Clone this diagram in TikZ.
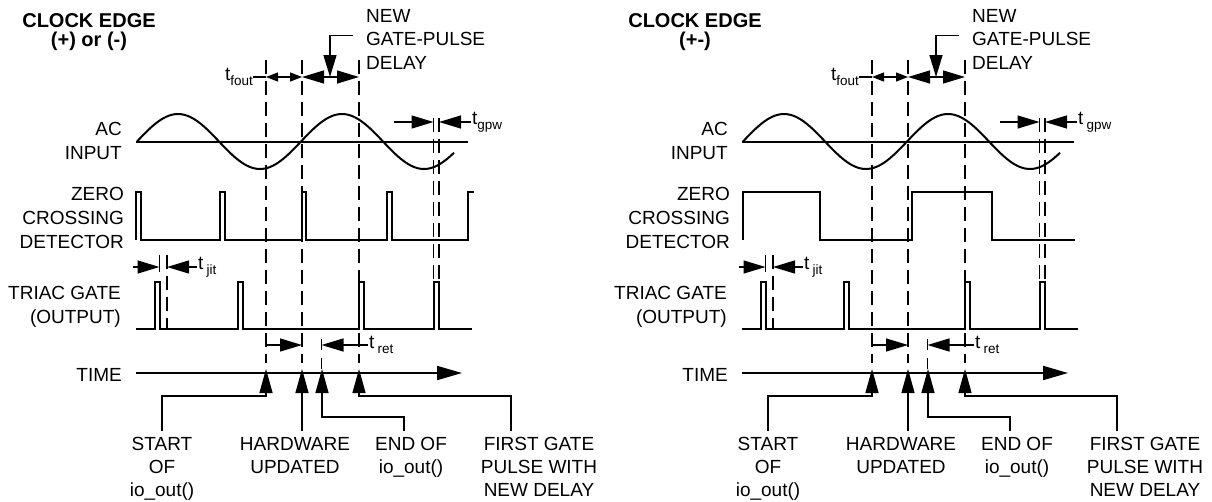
\documentclass[tikz,border=0pt]{standalone}
\usepackage{fontspec}
\setmainfont{Liberation Sans}
\usetikzlibrary{arrows.meta}
\newcommand\fs{\fontsize{19}{24}\selectfont}
\newcommand\fsbot{\fontsize{19}{23}\selectfont}
\newcommand\fsnew{\fontsize{19}{23.5}\selectfont}
\newcommand\fsb{\fontsize{20}{19.5}\selectfont\bfseries}
\newcommand\mysub[1]{\raisebox{-0.25em}{\fontsize{13.5}{13.5}\selectfont #1}}
\newcommand\drawpanel[3]{%
  % titles
  \node[clk] (clk) at (89,13) {CLOCK EDGE\\#1};
  \node[lbl, anchor=north west, align=left, font=\fsnew] (ngp) at (366,9) {NEW\\GATE-PULSE\\DELAY};
  % side labels
  \node[side] (ac) at (122,141) {AC\\INPUT};
  \node[side] (zcd) at (124,218) {ZERO\\CROSSING\\DETECTOR};
  \node[side] (tri) at (121,307) {TRIAC GATE\\(OUTPUT)};
  \node[side] (time) at (122,375) {TIME};
  % dashed verticals
  \coordinate (dA) at (266,60);
  \coordinate (dB) at (302,60);
  \coordinate (dC) at (359,60);
  \draw[dashv] (dA) -- (266,363);
  \draw[dashv] (dB) -- (302,363);
  \draw[dashv] (dC) -- (359,363);
  \draw[dashv] (433.5,118) -- (433.5,279);
  \draw[dashv] (439,118) -- (439,279);
  \draw[dashv] (167,255) -- (167,329);
  \draw[lead] (159.5,255) -- (159.5,272);
  % top dimensions
  \node[lbl, anchor=east] (tf) at (253,77) {t\mysub{fout}};
  \draw[lead] (tf.east) -- (266,77);
  \draw[lead, tipS-tipS] (266,77) -- (302,77);
  \draw[lead, tipL-tipL] (302,77) -- (359,77);
  \coordinate (tipN) at (330,77);
  \draw[lead, -tipL] ([xshift=-13pt, yshift=3.5pt]ngp.west) -| (tipN);
  % t_gpw
  \node[lbl, anchor=west, inner sep=1pt] (gpw) at (471,122) {t#3\mysub{gpw}};
  \draw[lead, -tipL] (394,122) -- (433.5,122);
  \draw[lead, -tipL] (gpw.west) -- (439,122);
  % t_jit
  \node[lbl, anchor=west, inner sep=1pt] (jit) at (197,267) {t\,\mysub{jit}};
  \draw[lead, -tipL] (133,267) -- (159.5,267);
  \draw[lead, -tipL] (jit.west) -- (167,267);
  % AC input
  \draw[wave] (136,142) -- (468,142);
  \draw[wave, domain=137:454, samples=120, variable=\t] plot (\t, {141.5 - 27.5*sin((\t-137)/164*360)});
  % zero crossing detector
  \draw[wave] #2;
  % triac gate
  \draw[wave] (136,329) -- (155,329) -- (155,282) -- (159.5,282) -- (159.5,329) -- (238,329) -- (238,282) -- (243,282) -- (243,329) -- (359,329) -- (359,282) -- (364,282) -- (364,329) -- (433.5,329) -- (433.5,282) -- (439,282) -- (439,329) -- (472,329);
  % bottom dimensions
  \draw[lead, -tipL] (266,345) -- (302,345);
  \node[lbl, anchor=west, inner sep=1pt] (ret) at (368,345) {t\,\mysub{ret}};
  \draw[lead, -tipL] (ret.west) -- (321.5,345);
  \draw[lead, dash pattern=on 11pt off 8pt] (321.5,339) -- (321.5,372);
  % time axis
  \draw[wave, -{Triangle[length=25pt,width=14pt]}] (136,373) -- (462,373);
  % markers
  \coordinate (tS) at (266,369);
  \coordinate (tH) at (302,369);
  \coordinate (tE) at (322,369);
  \coordinate (tF) at (359,369);
  \node[bot] (lS) at (162,431) {START\\OF\\io\_out()};
  \node[bot] (lH) at (295,431) {HARDWARE\\UPDATED};
  \node[bot] (lE) at (411,431) {END OF\\io\_out()};
  \node[bot] (lF) at (539,431) {FIRST GATE\\PULSE WITH\\NEW DELAY};
  \draw[markarrow] (lS.north) -- ++(0,-35) -| (tS);
  \draw[markarrow] (lH.north -| tH) -- (tH);
  \draw[markarrow] ([xshift=-7pt]lE.north) -- ++(0,-14) -| (tE);
  \draw[markarrow] ([xshift=-28pt]lF.north) -- ++(0,-35) -| (tF);
}
\begin{document}
\begin{tikzpicture}[x=1pt, y=-1pt,
  wave/.style={line width=2pt, line join=miter},
  dashv/.style={line width=1.3pt, dash pattern=on 14pt off 7pt},
  lead/.style={line width=1.3pt},
  tipS/.tip={Triangle[length=12pt,width=9pt]},
  tipL/.tip={Triangle[length=22pt,width=13pt]},
  markarrow/.style={lead, -{Triangle[length=24pt,width=13pt]}},
  lbl/.style={font=\fs, inner sep=0pt},
  side/.style={lbl, align=right, anchor=east},
  clk/.style={font=\fsb, align=center, anchor=north, inner sep=0pt},
  bot/.style={font=\fsbot, align=center, anchor=north, inner xsep=0pt, inner ysep=6pt}]
  \fill[white] (0,0) rectangle (1212,501);
  \useasboundingbox (0,0) rectangle (1212,501);
  \begin{scope}[name prefix=L-]
    \drawpanel{(+) or (-)}{(136,240) -- (136,192) -- (141,192) -- (141,240) -- (220,240) -- (220,192) -- (225,192) -- (225,240) -- (302,240) -- (302,192) -- (306,192) -- (306,240) -- (387,240) -- (387,192) -- (392,192) -- (392,240) -- (468,240) -- (468,192) -- (474,192)}{}
  \end{scope}
  \begin{scope}[name prefix=R-, xshift=606pt]
    \drawpanel{(+-)}{(137,240) -- (137,192) -- (214,192) -- (214,240) -- (306,240) -- (306,192) -- (386,192) -- (386,240) -- (469,240)}{\,}
  \end{scope}
\end{tikzpicture}
\end{document}
